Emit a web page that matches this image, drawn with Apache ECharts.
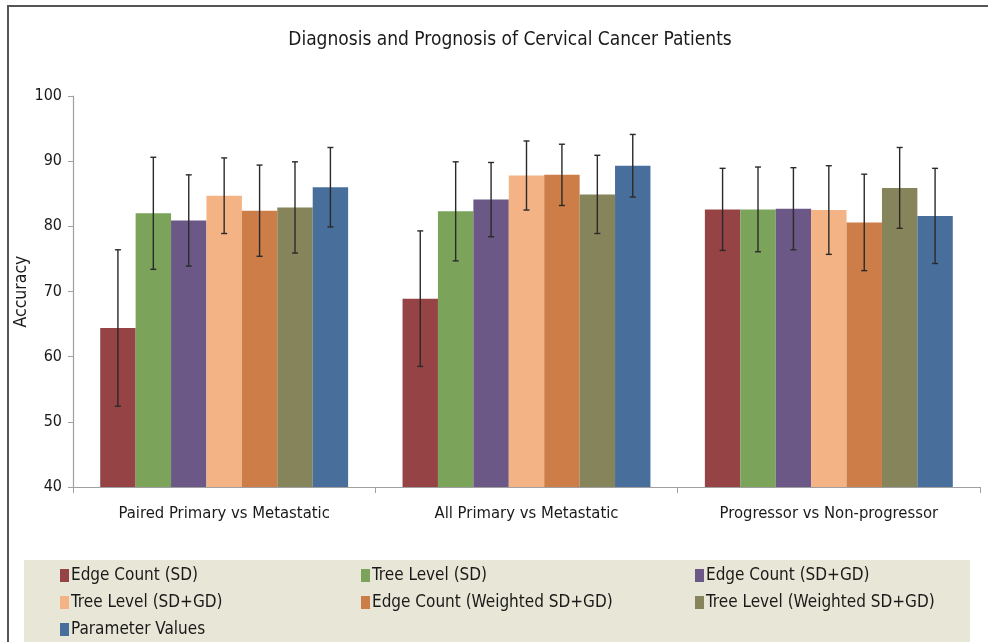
<!DOCTYPE html>
<html>
<head>
<meta charset="utf-8">
<script src="https://cdn.jsdelivr.net/npm/echarts@6/dist/echarts.min.js"></script>
<style>
  html, body { margin: 0; padding: 0; background: #fff; }
  #chart { width: 988px; height: 642px; }
</style>
</head>
<body>
<div id="chart"></div>
<script>
var categories = ['Paired Primary vs Metastatic', 'All Primary vs Metastatic', 'Progressor vs Non-progressor'];
var seriesNames = ['Edge Count (SD)', 'Tree Level (SD)', 'Edge Count (SD+GD)', 'Tree Level (SD+GD)',
    'Edge Count (Weighted SD+GD)', 'Tree Level (Weighted SD+GD)', 'Parameter Values'];
var colors = ['#964345', '#7ba35a', '#6b5887', '#f3b385', '#cd7d48', '#86845a', '#486e9c'];

// mean accuracy per series, one value per category
var edgeSD = [64.4, 68.9, 82.6];
var treeSD = [82.0, 82.3, 82.6];
var edgeSDGD = [80.9, 84.1, 82.7];
var treeSDGD = [84.7, 87.8, 82.5];
var edgeWeighted = [82.4, 87.9, 80.6];
var treeWeighted = [82.9, 84.9, 85.9];
var paramValues = [86.0, 89.3, 81.6];

// standard deviation (error bar half length)
var edgeSDErr = [12.0, 10.4, 6.3];
var treeSDErr = [8.6, 7.6, 6.5];
var edgeSDGDErr = [7.0, 5.7, 6.3];
var treeSDGDErr = [5.8, 5.3, 6.8];
var edgeWeightedErr = [7.0, 4.7, 7.4];
var treeWeightedErr = [7.0, 6.0, 6.2];
var paramValuesErr = [6.1, 4.8, 7.3];

var means = [edgeSD, treeSD, edgeSDGD, treeSDGD, edgeWeighted, treeWeighted, paramValues];
var errs = [edgeSDErr, treeSDErr, edgeSDGDErr, treeSDGDErr, edgeWeightedErr, treeWeightedErr, paramValuesErr];

var yTicks = [40, 100, 10];
var catGap = 0.18;
var font = "'DejaVu Sans Condensed', 'Liberation Sans Narrow', sans-serif";

var myChart = echarts.init(document.getElementById('chart'));

function errorSeries(idx) {
    var n = seriesNames.length;
    return {
        type: 'custom',
        z: 10,
        silent: true,
        data: means[idx].map(function (m, i) {
            return [i, m - errs[idx][i], m + errs[idx][i]];
        }),
        encode: { x: 0, y: [1, 2] },
        renderItem: function (params, api) {
            var band = api.size([1, 0])[0];
            var barW = band * (1 - catGap) / n;
            var lo = api.coord([api.value(0), api.value(1)]);
            var hi = api.coord([api.value(0), api.value(2)]);
            var x = lo[0] - band * (1 - catGap) / 2 + barW * (idx + 0.5);
            var cap = 3;
            var style = { stroke: '#2a2a2a', lineWidth: 1.4 };
            return {
                type: 'group',
                children: [
                    { type: 'line', shape: { x1: x, y1: lo[1], x2: x, y2: hi[1] }, style: style },
                    { type: 'line', shape: { x1: x - cap, y1: lo[1], x2: x + cap, y2: lo[1] }, style: style },
                    { type: 'line', shape: { x1: x - cap, y1: hi[1], x2: x + cap, y2: hi[1] }, style: style }
                ]
            };
        }
    };
}

var series = [];
seriesNames.forEach(function (name, idx) {
    series.push({
        name: name,
        type: 'bar',
        data: means[idx],
        barGap: 0,
        barCategoryGap: (catGap * 100) + '%',
        itemStyle: { color: colors[idx] }
    });
});
seriesNames.forEach(function (name, idx) {
    series.push(errorSeries(idx));
});

function legendCol(left, names) {
    return {
        orient: 'vertical',
        left: left,
        top: 567,
        itemWidth: 9,
        itemHeight: 13,
        itemGap: 10,
        icon: 'rect',
        padding: 0,
        selectedMode: false,
        data: names,
        textStyle: { fontFamily: font, fontSize: 17, color: '#1a1a1a', padding: [0, 0, 0, -3] }
    };
}

var option = {
    color: colors,
    animation: false,
    title: {
        text: 'Diagnosis and Prognosis of Cervical Cancer Patients',
        left: 505,
        top: 26,
        textAlign: 'center',
        textStyle: { fontFamily: font, fontSize: 19, fontWeight: 'normal', color: '#1a1a1a' }
    },
    graphic: [
        {
            type: 'rect',
            z: -10,
            shape: { x: 24, y: 560, width: 946, height: 90 },
            style: { fill: '#e8e6d6' }
        },
        {
            type: 'polyline',
            z: 100,
            shape: { points: [[8, 660], [8, 6], [1000, 6]] },
            style: { stroke: '#555', lineWidth: 2, fill: null }
        }
    ],
    legend: [
        legendCol(60, [seriesNames[0], seriesNames[3], seriesNames[6]]),
        legendCol(361, [seriesNames[1], seriesNames[4]]),
        legendCol(695, [seriesNames[2], seriesNames[5]])
    ],
    grid: { left: 73, right: 8, top: 96, bottom: 155, containLabel: false, outerBoundsMode: 'none' },
    xAxis: {
        type: 'category',
        data: categories,
        axisLine: { lineStyle: { color: '#a0a0a0', width: 1.2 } },
        axisTick: { show: true, length: 6, lineStyle: { color: '#a0a0a0' } },
        axisLabel: { fontFamily: font, fontSize: 16.5, color: '#1a1a1a', margin: 18 }
    },
    yAxis: {
        type: 'value',
        min: yTicks[0],
        max: yTicks[1],
        interval: yTicks[2],
        name: 'Accuracy',
        nameLocation: 'middle',
        nameRotate: 90,
        nameGap: 43,
        nameMoveOverlap: false,
        nameTextStyle: { fontFamily: font, fontSize: 17.5, color: '#1a1a1a' },
        splitLine: { show: false },
        axisLine: { show: true, lineStyle: { color: '#a0a0a0', width: 1.2 } },
        axisTick: { show: true, length: 5, lineStyle: { color: '#a0a0a0' } },
        axisLabel: { fontFamily: font, fontSize: 16, color: '#1a1a1a', margin: 11 }
    },
    series: series
};

myChart.setOption(option);
</script>
</body>
</html>
